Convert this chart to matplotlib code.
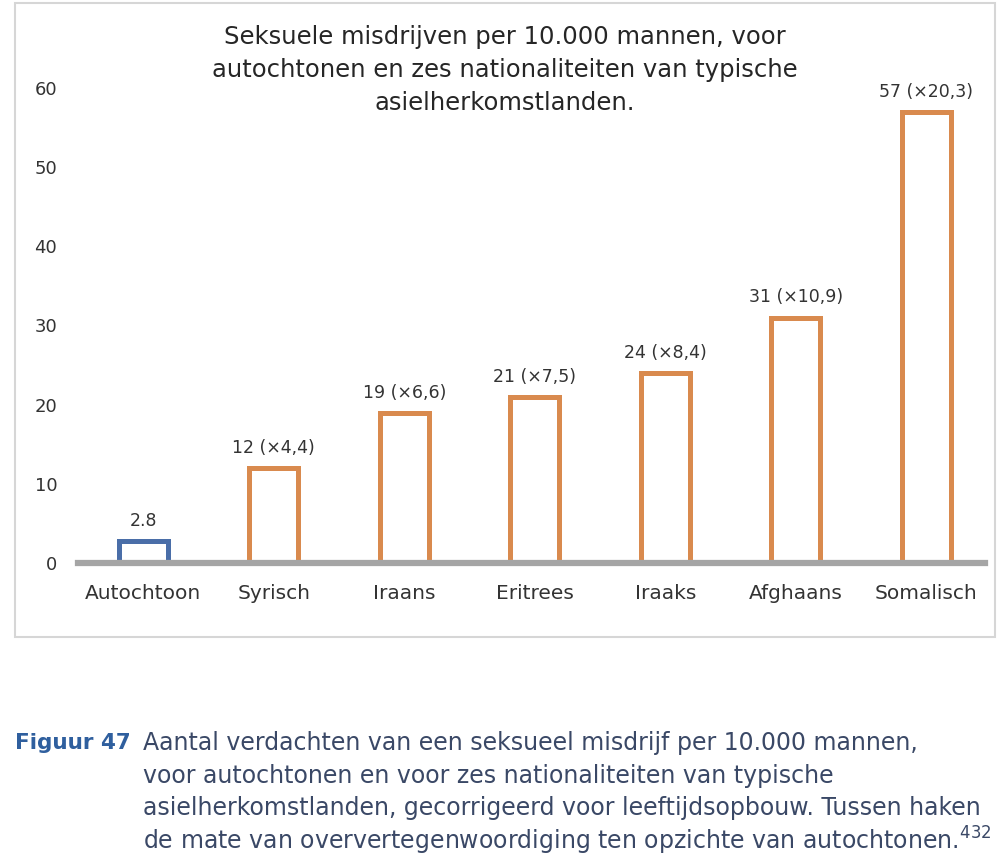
import numpy as np
import matplotlib
matplotlib.use("Agg")
import matplotlib.pyplot as plt
from matplotlib.patches import Rectangle

# data
categories = ["Autochtoon", "Syrisch", "Iraans", "Eritrees", "Iraaks", "Afghaans", "Somalisch"]
values = [2.8, 12, 19, 21, 24, 31, 57]
value_labels = ["2.8", "12 (×4,4)", "19 (×6,6)", "21 (×7,5)", "24 (×8,4)", "31 (×10,9)", "57 (×20,3)"]
y_ticks = [0, 10, 20, 30, 40, 50, 60]

title = ("Seksuele misdrijven per 10.000 mannen, voor\n"
         "autochtonen en zes nationaliteiten van typische\n"
         "asielherkomstlanden.")
caption_lines = [
    "Aantal verdachten van een seksueel misdrijf per 10.000 mannen,",
    "voor autochtonen en voor zes nationaliteiten van typische",
    "asielherkomstlanden, gecorrigeerd voor leeftijdsopbouw. Tussen haken",
    "de mate van oververtegenwoordiging ten opzichte van autochtonen.$^{432}$",
]

orange = "#d98a4e"
blue = "#4a6ea8"
text_col = "#333333"

W, H = 1001, 861
fig = plt.figure(figsize=(W / 100, H / 100), dpi=100)

# light frame around the chart
fig.patches.append(Rectangle((15 / W, 1 - 637 / H), 980 / W, 634 / H,
                             transform=fig.transFigure, fill=False,
                             edgecolor="#d6d6d6", linewidth=1.5))

# axes placed so that 0 -> y=563 px and 60 -> y=88 px
ax = fig.add_axes([78 / W, 1 - 563 / H, 907 / W, 475 / H])
x = np.arange(len(categories))
colors = [blue] + [orange] * (len(categories) - 1)
ax.bar(x, values, width=0.375, facecolor="white", edgecolor=colors,
       linewidth=3.6, zorder=2)
for xi, v, lab in zip(x, values, value_labels):
    ax.text(xi, v + 1.4, lab, ha="center", va="bottom", fontsize=12.5, color=text_col)

ax.axhline(0, color="#a5a5a5", linewidth=4.5, zorder=3, clip_on=False)
ax.set_xlim(-0.5, 6.45)
ax.set_ylim(0, 60)
ax.set_xticks(x)
ax.set_xticklabels(categories, fontsize=14.5, color=text_col)
ax.set_yticks(y_ticks)
ax.set_yticklabels([str(t) for t in y_ticks], fontsize=13, color=text_col)
ax.tick_params(axis="both", length=0)
ax.tick_params(axis="x", pad=15)
ax.tick_params(axis="y", pad=15)
for s in ax.spines.values():
    s.set_visible(False)

fig.text(505 / W, 1 - 70 / H, title, ha="center", va="center", fontsize=17.5,
         color="#262626", linespacing=1.45)

# caption under the chart
fig.text(15 / W, 1 - 743 / H, "Figuur 47", ha="left", va="center", fontsize=15.5,
         fontweight="bold", color="#2f5f9e")
for i, line in enumerate(caption_lines):
    fig.text(143 / W, 1 - (743 + 32.5 * i) / H, line, ha="left", va="center",
             fontsize=17, color="#3a4866")

fig.savefig("out.png", dpi=100)
